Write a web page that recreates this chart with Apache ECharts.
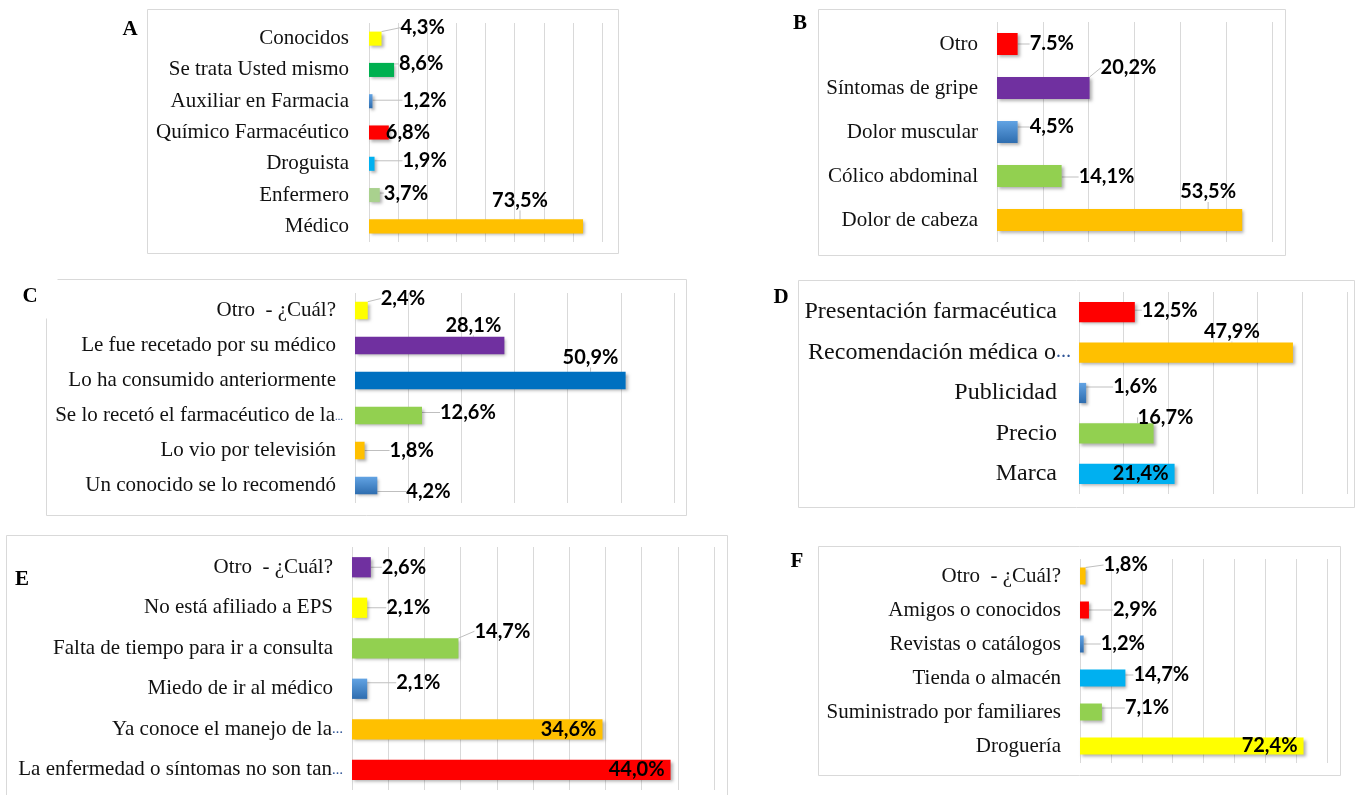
<!DOCTYPE html>
<html>
<head>
<meta charset="utf-8">
<script src="https://cdn.jsdelivr.net/npm/echarts@6/dist/echarts.min.js"></script>
<style>
  html, body { margin: 0; padding: 0; background: #fff; }
  #chart { width: 1360px; height: 795px; }
</style>
</head>
<body>
<div id="chart"></div>
<script>
// A - a quién consulta
const catA = ['Conocidos', 'Se trata Usted mismo', 'Auxiliar en Farmacia', 'Químico Farmacéutico', 'Droguista', 'Enfermero', 'Médico'];
const valA = [4.3, 8.6, 1.2, 6.8, 1.9, 3.7, 73.5];

// B - síntomas (el rótulo de "Otro" dice 7.5% aunque la barra mide 4,5)
const catB = ['Otro', 'Síntomas de gripe', 'Dolor muscular', 'Cólico abdominal', 'Dolor de cabeza'];
const valB = [4.5, 20.2, 4.5, 14.1, 53.5];
const txtB = ['7.5%', '20,2%', '4,5%', '14,1%', '53,5%'];

// C - por qué lo usa
const catC = ['Otro  - ¿Cuál?', 'Le fue recetado por su médico', 'Lo ha consumido anteriormente', 'Se lo recetó el farmacéutico de la…', 'Lo vio por televisión', 'Un conocido se lo recomendó'];
const valC = [2.4, 28.1, 50.9, 12.6, 1.8, 4.2];

// D - criterio de elección
const catD = ['Presentación farmacéutica', 'Recomendación médica o…', 'Publicidad', 'Precio', 'Marca'];
const valD = [12.5, 47.9, 1.6, 16.7, 21.4];

// E - por qué no va al médico
const catE = ['Otro  - ¿Cuál?', 'No está afiliado a EPS', 'Falta de tiempo para ir a consulta', 'Miedo de ir al médico', 'Ya conoce el manejo de la…', 'La enfermedad o síntomas no son tan…'];
const valE = [2.6, 2.1, 14.7, 2.1, 34.6, 44.0];

// F - dónde lo consigue
const catF = ['Otro  - ¿Cuál?', 'Amigos o conocidos', 'Revistas o catálogos', 'Tienda o almacén', 'Suministrado por familiares', 'Droguería'];
const valF = [1.8, 2.9, 1.2, 14.7, 7.1, 72.4];

// colores tipo Excel
const YEL = '#FFFF00', GRN = '#00B050', LGRN = '#92D050', PGRN = '#A9D18E', RED = '#FF0000',
      CYAN = '#00B0F0', ORG = '#FFC000', PUR = '#7030A0', DBLUE = '#0070C0';
const GRAD = new echarts.graphic.LinearGradient(0, 0, 0, 1, [
  { offset: 0, color: '#62A3E3' }, { offset: 1, color: '#2E6DAF' }
]);

const fmt = v => v.toFixed(1).replace('.', ',') + '%';

const panels = [
  { cats: catA, vals: valA, colors: [YEL, GRN, GRAD, RED, CYAN, PGRN, ORG],
    grid: { left: 369, top: 23, width: 233, height: 219 }, max: 80, interval: 10, margin: 20, size: 21, ell: 8, bw: '45%',
    nudge: [[14, -11], [0, -6], [25, -1], [-8, 0], [23, -3], [-1, -2], [-96, -26]] },
  { cats: catB, vals: valB, txt: txtB, colors: [RED, PUR, GRAD, LGRN, ORG],
    grid: { left: 997, top: 22, width: 275, height: 220 }, max: 60, interval: 10, margin: 19, size: 21, ell: 8, bw: '50%',
    nudge: [[7, 0], [6, -20], [7, -5], [12, 1], [-67, -28]] },
  { cats: catC, vals: valC, colors: [YEL, PUR, DBLUE, LGRN, ORG, GRAD],
    grid: { left: 355, top: 293, width: 319, height: 210 }, max: 60, interval: 10, margin: 19, size: 21, ell: 8, bw: '50%',
    nudge: [[8, -12], [-64, -20], [-68, -23], [13, -3], [20, 0], [24, 6]] },
  { cats: catD, vals: valD, colors: [RED, ORG, GRAD, LGRN, CYAN],
    grid: { left: 1079, top: 292, width: 268, height: 202 }, max: 60, interval: 10, margin: 22, size: 24, ell: 15, bw: '50%',
    nudge: [[2, -2], [-94, -21], [22, -6], [-21, -16], 'in'] },
  { cats: catE, vals: valE, colors: [PUR, YEL, LGRN, GRAD, ORG, RED],
    grid: { left: 352, top: 547, width: 362, height: 243 }, max: 50, interval: 5, margin: 19, size: 21, ell: 11, bw: '50%',
    nudge: [[6, 0], [14, 0], [11, -17], [24, -6], 'in', 'in'] },
  { cats: catF, vals: valF, colors: [ORG, RED, GRAD, CYAN, LGRN, YEL],
    grid: { left: 1080, top: 559, width: 247, height: 204 }, max: 80, interval: 10, margin: 19, size: 21, ell: 8, bw: '50%',
    nudge: [[13, -11], [19, 0], [12, 0], [3, -3], [18, -4], 'in'] }
];

// marcos de cada panel (polilíneas, C tiene la esquina abierta junto a la letra)
const frames = [
  [[147, 9], [618, 9], [618, 253], [147, 253], [147, 9]],
  [[818, 9], [1285, 9], [1285, 255], [818, 255], [818, 9]],
  [[57, 279], [686, 279], [686, 515], [46, 515], [46, 318]],
  [[798, 280], [1354, 280], [1354, 507], [798, 507], [798, 280]],
  [[6, 535], [727, 535], [727, 805], [6, 805], [6, 535]],
  [[818, 546], [1340, 546], [1340, 775], [818, 775], [818, 546]]
];
const letters = [['A', 130, 30], ['B', 800, 24], ['C', 30, 297], ['D', 781, 298], ['E', 22, 580], ['F', 797, 562]];

const chart = echarts.init(document.getElementById('chart'));

const option = {
  animation: false,
  backgroundColor: '#fff',
  grid: panels.map(p => Object.assign({ containLabel: false }, p.grid)),
  xAxis: panels.map((p, i) => ({
    type: 'value', gridIndex: i, min: 0, max: p.max, interval: p.interval,
    axisLabel: { show: false }, axisLine: { show: false }, axisTick: { show: false },
    splitLine: { show: true, lineStyle: { color: '#D9D9D9', width: 1 } }
  })),
  yAxis: panels.map((p, i) => ({
    type: 'category', gridIndex: i, data: p.cats, inverse: true,
    axisLine: { show: false }, axisTick: { show: false }, splitLine: { show: false },
    axisLabel: {
      interval: 0, margin: p.margin,
      formatter: v => v.endsWith('…') ? '{t|' + v.slice(0, -1) + '}{e|…}' : '{t|' + v + '}',
      rich: {
        t: { align: 'left', fontFamily: 'Liberation Serif', fontSize: p.size, color: '#111' },
        e: { align: 'left', width: 1, fontFamily: 'Liberation Serif', fontSize: p.ell, fontWeight: 'bold',
             color: '#2F5597', verticalAlign: 'bottom', padding: [0, 0, 4, 0] }
      }
    }
  })),
  series: panels.map((p, i) => ({
    type: 'bar', xAxisIndex: i, yAxisIndex: i, barWidth: p.bw,
    data: p.vals.map((v, k) => {
      const item = { value: v, itemStyle: { color: p.colors[k] } };
      if (p.nudge[k] === 'in') item.label = { position: 'insideRight', distance: 6 };
      return item;
    }),
    itemStyle: { shadowColor: 'rgba(0,0,0,0.3)', shadowBlur: 3, shadowOffsetX: 2, shadowOffsetY: 2 },
    label: {
      show: true, position: 'right', distance: 5,
      fontFamily: 'Lato', fontWeight: 'bold', fontSize: 20, color: '#000',
      formatter: prm => p.txt ? p.txt[prm.dataIndex] : fmt(prm.value)
    },
    labelLine: { show: true, lineStyle: { color: '#BFBFBF', width: 1 } },
    labelLayout: prm => {
      const n = p.nudge[prm.dataIndex];
      return Array.isArray(n) ? { dx: n[0], dy: n[1] } : {};
    }
  })),
  graphic: [
    ...frames.map(f => ({
      type: 'polyline', z: -10, shape: { points: f.map(pt => [pt[0] + 0.5, pt[1] + 0.5]) },
      style: { fill: null, stroke: '#D9D9D9', lineWidth: 1 }
    })),
    ...letters.map(l => ({
      type: 'text', z: 10, x: l[1], y: l[2],
      style: {
        text: l[0], font: 'bold 21px "Liberation Serif"', fill: '#000',
        align: 'center', verticalAlign: 'middle', backgroundColor: '#fff', padding: [8, 6]
      }
    }))
  ]
};

chart.setOption(option);
</script>
</body>
</html>
